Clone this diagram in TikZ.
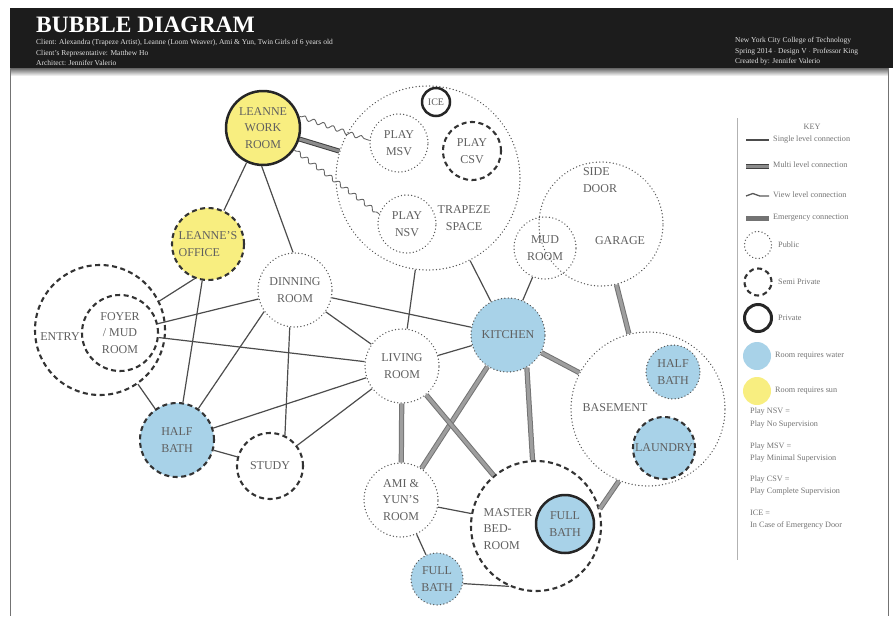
\documentclass[tikz,border=0pt]{standalone}
\usepackage{fontspec}
\setmainfont{Liberation Serif}
\usetikzlibrary{decorations.pathmorphing}
\definecolor{water}{RGB}{168,210,232}
\definecolor{sun}{RGB}{248,238,128}
\definecolor{txt}{RGB}{95,95,95}
\definecolor{hdr}{RGB}{28,28,28}
\tikzset{
 bub/.style={circle, inner sep=0pt, align=center, font=\fontsize{12}{16.5}\selectfont, text=txt},
 pub/.style={bub, draw=black!65, line width=1.4pt, dash pattern=on 0.1pt off 3.3pt, line cap=round},
 semi/.style={bub, draw=black!80, line width=2.1pt, dash pattern=on 5pt off 3.5pt},
 priv/.style={bub, draw=black!85, line width=2.5pt},
 single/.style={draw=black!70, line width=1.2pt},
 multilvl/.style={draw=black!75, line width=1pt, double=black!45, double distance=3pt},
 emerg/.style={draw=black!55, line width=1pt, double=black!38, double distance=3.2pt},
 viewc/.style={draw=black!60, line width=0.9pt, decorate, decoration={snake, amplitude=2pt, segment length=10pt, pre length=2pt, post length=2pt}},
 lbl/.style={font=\fontsize{12}{16.5}\selectfont, text=txt, align=center, inner sep=0pt},
 keytxt/.style={font=\fontsize{8.2}{10}\selectfont, text=black!55, anchor=west, inner sep=0pt},
 hdrtxt/.style={font=\fontsize{7.5}{9}\selectfont, text=black!12, anchor=base west, inner sep=0pt},
}
\begin{document}
\begin{tikzpicture}[x=1pt,y=-1pt]
\useasboundingbox (0,0) rectangle (893,616);
% header
\fill[hdr] (10,8) rectangle (893,68);
\shade[top color=black!60, bottom color=white] (10,68) rectangle (888,76);
\draw[black!55, line width=1pt] (10,68) -- (10,616);
\draw[black!55, line width=1pt] (888,68) -- (888,616);
\node[anchor=base west, inner sep=0pt, text=white, font=\fontsize{23.5}{26}\selectfont\bfseries] (title) at (36,32) {BUBBLE DIAGRAM};
\node[hdrtxt] (h1) at (36,44.5) {Client: Alexandra (Trapeze Artist), Leanne (Loom Weaver), Ami \& Yun, Twin Girls of 6 years old};
\node[hdrtxt] (h2) at (36,55) {Client's Representative: Matthew Ho};
\node[hdrtxt] (h3) at (36,65.5) {Architect: Jennifer Valerio};
\node[hdrtxt] (r1) at (735,42.5) {New York City College of Technology};
\node[hdrtxt] (r2) at (735,53) {Spring 2014 $\cdot$ Design V $\cdot$ Professor King};
\node[hdrtxt] (r3) at (735,63.5) {Created by: Jennifer Valerio};

% bubbles
\node[pub, minimum size=184pt] (trap) at (428,178) {};
\node[lbl] (traplbl) at (464,218) {TRAPEZE\\SPACE};
\node[priv, minimum size=28pt, font=\fontsize{10}{12}\selectfont] (ice) at (436,102) {ICE};
\node[pub, minimum size=58pt] (msv) at (399,143) {PLAY\\MSV};
\node[semi, minimum size=58pt] (csv) at (472,151) {PLAY\\CSV};
\node[pub, minimum size=58pt] (nsv) at (407,224) {PLAY\\NSV};
\node[priv, fill=sun, minimum size=74pt] (work) at (263,128) {LEANNE\\WORK\\ROOM};
\node[pub, minimum size=124pt] (garage) at (601,224) {};
\node[lbl, align=left] (sidelbl) at (600,180) {SIDE\\DOOR};
\node[lbl] (garlbl) at (620,241) {GARAGE};
\node[pub, minimum size=62pt] (mud) at (545,248) {MUD\\ROOM};
\node[semi, fill=sun, minimum size=72pt, align=left] (office) at (208,244) {LEANNE'S\\OFFICE};
\node[pub, minimum size=74pt] (dinning) at (295,290) {DINNING\\ROOM};
\node[semi, minimum size=130pt] (entry) at (100,330) {};
\node[lbl] (entrylbl) at (60,337) {ENTRY};
\node[semi, minimum size=76pt] (foyer) at (120,333) {FOYER\\/ MUD\\ROOM};
\node[semi, fill=water, minimum size=74pt] (hbath) at (177,440) {HALF\\BATH};
\node[semi, minimum size=66pt] (study) at (270,466) {STUDY};
\node[pub, minimum size=74pt] (living) at (402,366) {LIVING\\ROOM};
\node[pub, fill=water, minimum size=74pt] (kitchen) at (508,335) {KITCHEN};
\node[pub, minimum size=74pt] (ami) at (401,500) {AMI \&\\YUN'S\\ROOM};
\node[pub, fill=water, minimum size=52pt] (fbath) at (437,579) {FULL\\BATH};
\node[semi, minimum size=130pt] (master) at (536,526) {};
\node[lbl, align=left] (masterlbl) at (508,529) {MASTER\\BED-\\ROOM};
\node[priv, fill=water, minimum size=58pt] (mbath) at (565,524) {FULL\\BATH};
\node[pub, minimum size=154pt] (base) at (648,409) {};
\node[lbl] (baselbl) at (615,408) {BASEMENT};
\node[pub, fill=water, minimum size=54pt] (bhbath) at (673,372) {HALF\\BATH};
\node[semi, fill=water, minimum size=62pt] (laundry) at (664,448) {LAUNDRY};

% single level connections
\draw[single] (work) -- (office);
\draw[single] (work.268) -- (dinning.93);
\draw[single] (office.249) -- (entry.26);
\draw[single] (office) -- (hbath);
\draw[single] (entry) -- (hbath);
\draw[single] (foyer) -- (dinning);
\draw[single] (foyer) -- (living);
\draw[single] (dinning.215) -- (hbath);
\draw[single] (dinning.262) -- (study.64);
\draw[single] (dinning) -- (living);
\draw[single] (dinning) -- (kitchen);
\draw[single] (hbath) -- (living);
\draw[single] (hbath) -- (study);
\draw[single] (study) -- (living);
\draw[single] (trap) -- (living);
\draw[single] (trap) -- (kitchen);
\draw[single] (mud) -- (kitchen);
\draw[single] (living) -- (kitchen);
\draw[single] (ami) -- (master);
\draw[single] (ami) -- (fbath);
\draw[single] (fbath.-10) -- (master.246);

% multi level / emergency connections
\draw[multilvl] (work) -- (trap);
\draw[emerg] (kitchen) -- (base);
\draw[emerg] (kitchen) -- (ami);
\draw[emerg] (living) -- (master);
\draw[emerg] (kitchen.-60) -- (master.93);
\draw[emerg] (living) -- (ami);
\draw[emerg] (garage) -- (base);
\draw[emerg] (master.15) -- (base.248);

% view connections
\draw[viewc] (work.18) -- (msv.175);
\draw[viewc] (work.-35) -- (nsv.160);

% legend
\draw[black!30, line width=1pt] (737,118) -- (737,560);
\node[font=\fontsize{8.2}{10}\selectfont, text=black!55, inner sep=0pt] (key) at (812,127) {KEY};
\coordinate (k1a) at (746,140); \coordinate (k1b) at (769,140);
\coordinate (k2a) at (746,166); \coordinate (k2b) at (769,166);
\coordinate (k3a) at (746,196); \coordinate (k3b) at (769,196);
\coordinate (k4a) at (746,218); \coordinate (k4b) at (769,218);
\draw[single] (k1a) -- (k1b);
\draw[multilvl] (k2a) -- (k2b);
\draw[draw=black!65, line width=1.3pt, decorate, decoration={snake, amplitude=2.5pt, segment length=22pt}] (k3a) -- (k3b);
\draw[draw=black!55, line width=5pt] (k4a) -- (k4b);
\node[keytxt] (t1) at (773,140) {Single level connection};
\node[keytxt] (t2) at (773,165) {Multi level connection};
\node[keytxt] (t3) at (773,195) {View level connection};
\node[keytxt] (t4) at (773,218) {Emergency connection};
\node[pub, minimum size=27pt] (kpub) at (758,245) {};
\node[semi, minimum size=27pt] (ksemi) at (758,282) {};
\node[priv, line width=3pt, minimum size=27pt] (kpriv) at (758,318) {};
\node[circle, fill=water, minimum size=28pt, inner sep=0pt] (kwater) at (757,356) {};
\node[circle, fill=sun, minimum size=28pt, inner sep=0pt] (ksun) at (757,391) {};
\node[keytxt] (t5) at (778,245) {Public};
\node[keytxt] (t6) at (778,282) {Semi Private};
\node[keytxt] (t7) at (778,318) {Private};
\node[keytxt] (t8) at (775,356) {Room requires water};
\node[keytxt] (t9) at (775,391) {Room requires sun};
\node[keytxt] (p1) at (750,412) {Play NSV =};
\node[keytxt] (p2) at (750,425) {Play No Supervision};
\node[keytxt] (p3) at (750,447) {Play MSV =};
\node[keytxt] (p4) at (750,459) {Play Minimal Supervision};
\node[keytxt] (p5) at (750,480) {Play CSV =};
\node[keytxt] (p6) at (750,492) {Play Complete Supervision};
\node[keytxt] (p7) at (750,513) {ICE =};
\node[keytxt] (p8) at (750,525) {In Case of Emergency Door};
\end{tikzpicture}
\end{document}
